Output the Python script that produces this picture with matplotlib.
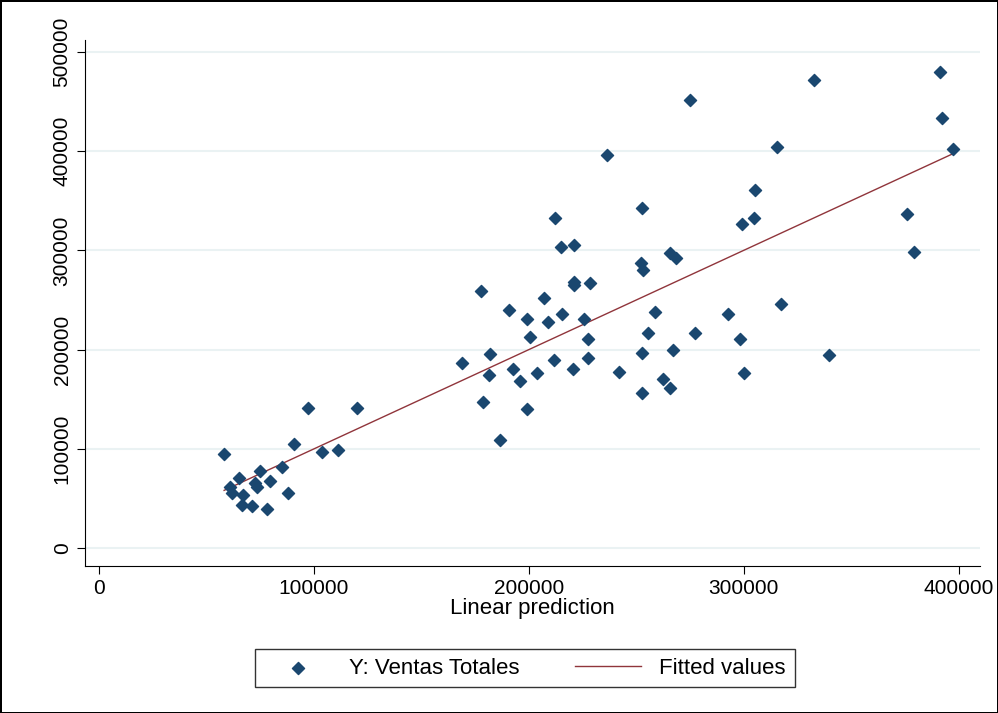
import numpy as np
import matplotlib
matplotlib.use('Agg')
import matplotlib.pyplot as plt

plt.rcParams['font.family'] = ['Liberation Sans', 'DejaVu Sans']

# linear prediction (x) and observed Ventas Totales (y)
pred = [58300, 97400, 120300, 90900, 104000, 111400, 85300, 75100, 65300, 61100,
        62000, 67100, 72700, 73700, 79700, 66700, 71300, 78300, 88100,
        168800, 177600, 181800, 181400, 178600, 186500, 190700, 192500, 195800,
        199100, 200500, 199100, 203700, 207000, 208900, 211700, 212100, 214900,
        215400, 221000, 221000, 221000, 225600, 227500, 227500, 228400, 220500,
        242000, 252700, 252200, 253100, 252700, 252700, 255500, 258700, 262500,
        265700, 267100, 265700, 268500, 277400, 236400, 274900, 292800, 298400,
        299300, 300200, 304900, 305400, 315600, 317500, 332800, 339800, 375800,
        379500, 391200, 392100, 397200]
ventas = [94800, 141100, 141100, 104800, 96800, 98800, 81700, 77600, 70600, 61500,
          55400, 53400, 65500, 61500, 67500, 43300, 42300, 39300, 55400,
          186500, 259100, 195600, 174400, 147200, 108900, 239900, 180400, 168300,
          230800, 212700, 140100, 176400, 252000, 227800, 189500, 332600, 303400,
          235900, 305400, 268100, 265100, 230800, 210700, 191500, 267100, 180400,
          177400, 342700, 287300, 280200, 196600, 156200, 216700, 237900, 170400,
          161300, 199600, 297400, 292300, 216700, 396100, 451600, 235900, 210700,
          326600, 176400, 332600, 360900, 404200, 246000, 471700, 194500, 336700,
          298400, 479800, 433400, 402200]

pred = np.array(pred)
order = np.argsort(pred)
fitted = pred[order]  # fitted values of Y on the linear prediction

fig = plt.figure(figsize=(9.98, 7.13), dpi=100)
fig.patch.set_edgecolor('black')
fig.patch.set_linewidth(2)
ax = fig.add_axes([0.085, 0.206, 0.897, 0.738])

ax.scatter(pred, ventas, marker='D', s=38, color='#1a476f', zorder=3,
           label='Y: Ventas Totales')
ax.plot(pred[order], fitted, color='#90353b', lw=1, zorder=2, label='Fitted values')

ax.set_xlim(-6500, 410000)
ax.set_ylim(-18000, 512000)
ax.set_xticks([0, 100000, 200000, 300000, 400000])
ax.set_yticks([0, 100000, 200000, 300000, 400000, 500000])
ax.set_xticklabels(['0', '100000', '200000', '300000', '400000'], fontsize=15)
ax.set_yticklabels(['0', '100000', '200000', '300000', '400000', '500000'],
                   fontsize=15, rotation=90, va='center')
ax.grid(axis='y', color='#eaf2f3', lw=1.5, zorder=0)
ax.set_axisbelow(True)
for s in ['top', 'right']:
    ax.spines[s].set_visible(False)
ax.tick_params(length=6)
ax.set_xlabel('Linear prediction', fontsize=16, labelpad=0)

fig.legend(loc='center', bbox_to_anchor=(0.526, 0.063), ncol=2,
           fontsize=16, frameon=True, fancybox=False, edgecolor='black',
           handlelength=3, columnspacing=2.5)

fig.savefig('out.png', dpi=100)
